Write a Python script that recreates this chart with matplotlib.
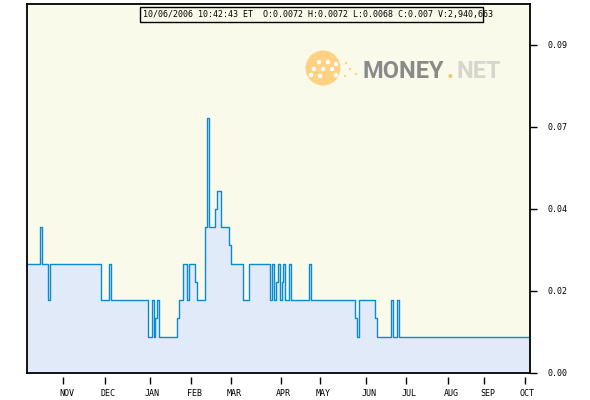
import matplotlib
matplotlib.use("Agg")
import matplotlib.pyplot as plt
from matplotlib.patches import Rectangle, Circle
from matplotlib.transforms import ScaledTranslation

# daily closing prices, Oct 2005 - Oct 2006 (one value per trading day)
prices = [
    .03, .03, .03, .03, .03, .03, .03, .04, .03, .03, .03, .02, .03,
    .03, .03, .03, .03, .03, .03, .03, .03, .03, .03, .03, .03, .03,
    .03, .03, .03, .03, .03, .03, .03, .03, .03, .03, .03, .03, .02,
    .02, .02, .02, .03, .02, .02, .02, .02, .02, .02, .02, .02, .02,
    .02, .02, .02, .02, .02, .02, .02, .02, .02, .01, .01, .02, .01,
    .015, .02, .01, .01, .01, .01, .01, .01, .01, .01, .01, .015, .02,
    .02, .03, .03, .02, .03, .03, .03, .025, .02, .02, .02, .02, .04,
    .07, .04, .04, .04, .045, .05, .05, .04, .04, .04, .04, .035, .03,
    .03, .03, .03, .03, .03, .02, .02, .02, .03, .03, .03, .03, .03,
    .03, .03, .03, .03, .03, .02, .03, .02, .025, .03, .02, .025, .03,
    .02, .02, .03, .02, .02, .02, .02, .02, .02, .02, .02, .02, .03,
    .02, .02, .02, .02, .02, .02, .02, .02, .02, .02, .02, .02, .02,
    .02, .02, .02, .02, .02, .02, .02, .02, .02, .015, .01, .02, .02,
    .02, .02, .02, .02, .02, .02, .015, .01, .01, .01, .01, .01, .01,
    .01, .02, .01, .01, .02, .01, .01, .01, .01, .01, .01, .01, .01,
    .01, .01, .01, .01, .01, .01, .01, .01, .01, .01, .01, .01, .01,
    .01, .01, .01, .01, .01, .01, .01, .01, .01, .01, .01, .01, .01,
    .01, .01, .01, .01, .01, .01, .01, .01, .01, .01, .01, .01, .01,
    .01, .01, .01, .01, .01, .01, .01, .01, .01, .01, .01, .01, .01,
    .01, .01, .01, .01, .01, .01, .01, .01, .01, .01, .01, .01, .01,
]
days = list(range(len(prices)))

# first trading day of each month (index into prices)
month_idx = [18.5, 39.5, 61.5, 82.5, 102.5, 127, 147, 170, 190, 211, 229, 249]
months = ["NOV", "DEC", "JAN", "FEB", "MAR", "APR", "MAY", "JUN", "JUL",
          "AUG", "SEP", "OCT"]

price_ticks = [0.0, 0.0225, 0.045, 0.0675, 0.09]
price_labels = ["0.00", "0.02", "0.04", "0.07", "0.09"]

quote = "10/06/2006 10:42:43 ET  O:0.0072 H:0.0072 L:0.0068 C:0.007 V:2,940,663"

mono = "DejaVu Sans Mono"
W, H = 590, 400

fig = plt.figure(figsize=(W / 100, H / 100), dpi=100)
fig.patch.set_facecolor("white")
ax = fig.add_axes([26.5 / W, 1 - 373 / H, 503 / W, 369 / H])
ax.set_facecolor("#fafaeb")

ax.fill_between(days, prices, 0, step="mid", color="#e1eaf9", lw=0)
ax.plot(days, prices, drawstyle="steps-mid", color="#0a8ad0", lw=1.0)

ax.set_xlim(0, 251.5)
ax.set_ylim(0, 0.10125)

for s in ax.spines.values():
    s.set_linewidth(1.3)
    s.set_color("black")

ax.tick_params(axis="x", bottom=False, labelbottom=False)
ax.yaxis.tick_right()
ax.set_yticks(price_ticks, labels=price_labels)
ax.tick_params(axis="y", direction="out", length=5, width=1, pad=8,
               labelsize=6)
for lbl in ax.get_yticklabels():
    lbl.set_family(mono)

# month ticks sit a few pixels below the frame
sec = ax.secondary_xaxis(-0.0108)
for s in sec.spines.values():
    s.set_visible(False)
sec.set_xticks(month_idx, labels=months)
sec.tick_params(direction="out", length=5, width=1, pad=4, labelsize=6)
shift = ScaledTranslation(3 / 100, 0, fig.dpi_scale_trans)
for lbl in sec.get_xticklabels():
    lbl.set_family(mono)
    lbl.set_transform(lbl.get_transform() + shift)

# quote box
fig.add_artist(Rectangle((140 / W, 1 - 22 / H), 342.5 / W, 15 / H,
                         transform=fig.transFigure, fill=False,
                         ec="black", lw=1))
fig.text(143 / W, 1 - 14.8 / H, quote, family=mono, fontsize=6.0,
         va="center", ha="left")

# watermark logo
inch = fig.dpi_scale_trans
fig.add_artist(Circle((3.23, 3.32), 0.175, transform=inch, color="#ffd283",
                      lw=0))
for cx, cy in [(3.19, 3.38), (3.28, 3.38), (3.36, 3.36), (3.14, 3.31),
               (3.23, 3.31), (3.32, 3.31), (3.11, 3.25), (3.20, 3.24),
               (3.36, 3.25)]:
    fig.add_artist(Circle((cx, cy), 0.022, transform=inch, color="white",
                          lw=0))
for cx, cy in [(3.46, 3.37), (3.50, 3.31), (3.56, 3.26), (3.45, 3.24)]:
    fig.add_artist(Circle((cx, cy), 0.012, transform=inch, color="#ffd283",
                          lw=0))
fig.text(3.62, 3.22, "MONEY", transform=inch, family="Roboto",
         weight="bold", fontsize=17, color="#8a8a8a")
fig.text(4.47, 3.22, ".", transform=inch, family="Roboto",
         weight="bold", fontsize=17, color="#ffc060")
fig.text(4.57, 3.22, "NET", transform=inch, family="Roboto",
         weight="bold", fontsize=17, color="#d6d6cc")

fig.savefig("out.png", dpi=100)
